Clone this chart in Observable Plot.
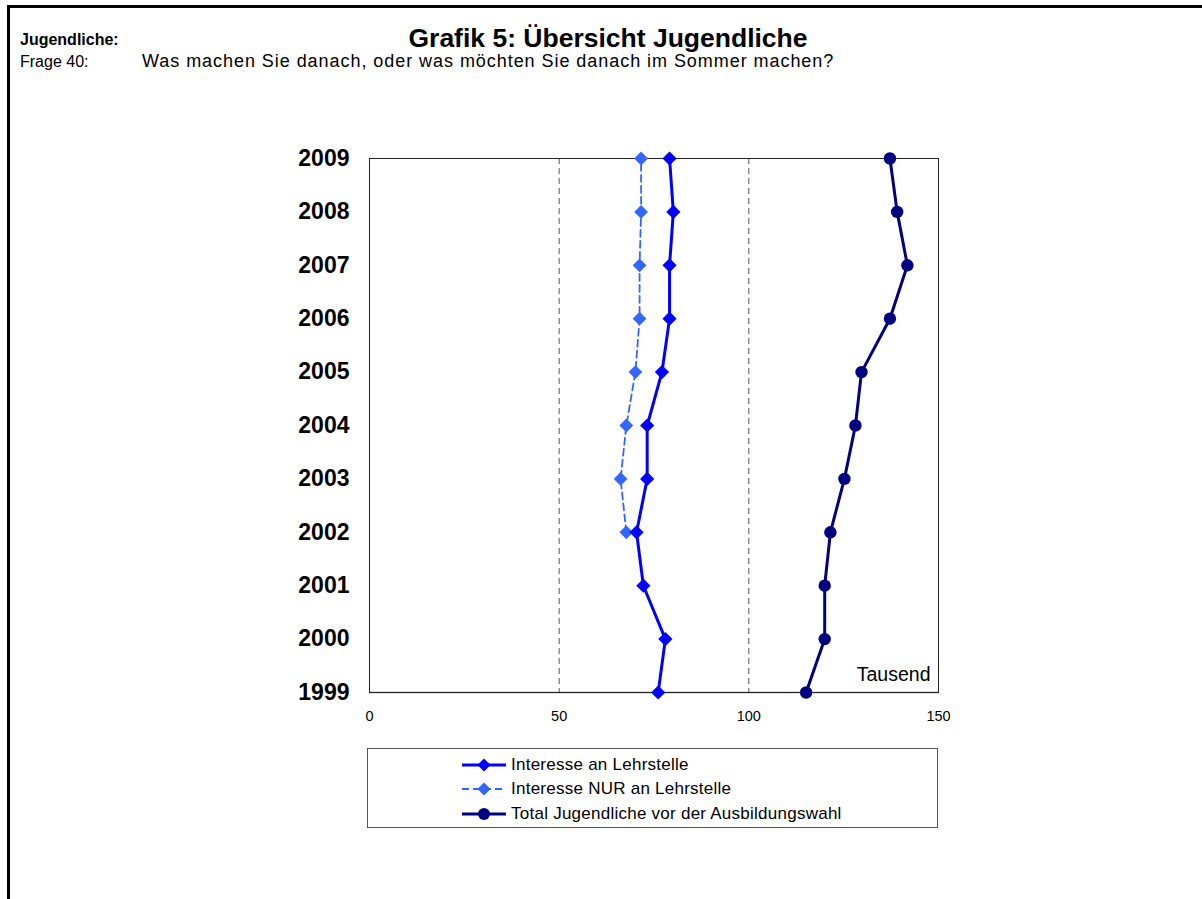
<!DOCTYPE html>
<html>
<head>
<meta charset="utf-8">
<script src="https://cdn.jsdelivr.net/npm/d3@7"></script>
<script src="https://cdn.jsdelivr.net/npm/@observablehq/plot@0.6"></script>
<style>
  html, body { margin: 0; padding: 0; background: #fff; }
  #page { position: relative; width: 1202px; height: 899px; overflow: hidden; font-family: "Liberation Sans", Arial, sans-serif; color: #000; }
  #border { position: absolute; left: 7px; top: 5px; width: 1200px; height: 900px; border-top: 3px solid #000; border-left: 3px solid #000; }
  #title { position: absolute; left: 0; width: 1216px; top: 24.5px; line-height: 1; text-align: center; font-weight: bold; font-size: 26.5px; }
  #group { position: absolute; left: 20px; top: 32px; line-height: 1; font-weight: bold; font-size: 16px; }
  #qline { position: absolute; left: 20px; top: 51.5px; line-height: 1; white-space: nowrap; }
  #frage { display: inline-block; width: 122px; font-size: 16px; }
  #question { font-size: 18px; letter-spacing: 0.95px; }
  #chart { position: absolute; left: 269px; top: 140px; }
  #legend { position: absolute; left: 367px; top: 748px; width: 571px; height: 80px; border: 1px solid #555; box-sizing: border-box; font-size: 17px; letter-spacing: 0.25px; }
  .row { position: absolute; left: 93px; height: 20px; display: flex; align-items: center; }
  .row svg { margin-right: 4px; }
</style>
</head>
<body>
<div id="page">
  <div id="border"></div>
  <div id="title">Grafik 5: Übersicht Jugendliche</div>
  <div id="group">Jugendliche:</div>
  <div id="qline"><span id="frage">Frage 40:</span><span id="question">Was machen Sie danach, oder was möchten Sie danach im Sommer machen?</span></div>
  <div id="chart"></div>
  <div id="legend"></div>
</div>
<script>
const years = [1999, 2000, 2001, 2002, 2003, 2004, 2005, 2006, 2007, 2008, 2009];
const interesse = [76.1, 78.0, 72.2, 70.4, 73.2, 73.2, 77.1, 79.1, 79.1, 80.1, 79.1];
const interesseNur = [null, null, null, 67.7, 66.2, 67.7, 70.1, 71.2, 71.2, 71.6, 71.6];
const total = [115.1, 120.0, 120.0, 121.5, 125.2, 128.1, 129.7, 137.2, 141.8, 139.1, 137.2];
const xTicks = [0, 50, 100, 150];
const seriesNames = ["Interesse an Lehrstelle", "Interesse NUR an Lehrstelle", "Total Jugendliche vor der Ausbildungswahl"];
const colors = ["#0000FF", "#3366FF", "#000080"];

const rowsA = years.map((y, i) => ({year: y, value: interesse[i]}));
const rowsB = years.map((y, i) => ({year: y, value: interesseNur[i]})).filter(d => d.value != null);
const rowsC = years.map((y, i) => ({year: y, value: total[i]}));

const chart = Plot.plot({
  width: 689,
  height: 592,
  marginLeft: 100,
  marginRight: 20,
  marginTop: 18,
  marginBottom: 40,
  style: {fontFamily: "'Liberation Sans', Arial, sans-serif", background: "transparent", color: "#000"},
  x: {domain: [0, 150]},
  y: {domain: [1999, 2009]},
  marks: [
    Plot.ruleX([50, 100], {stroke: "#555", strokeDasharray: "6,4", strokeWidth: 1}),
    Plot.ruleY([1999], {stroke: "#777", strokeWidth: 1.5}),
    Plot.frame({stroke: "#222", strokeWidth: 1}),
    Plot.axisX({ticks: xTicks, tickSize: 0, tickPadding: 18, fontSize: 14.5, label: null, fill: "#000"}),
    Plot.axisY({ticks: years, tickFormat: "d", tickSize: 0, tickPadding: 20, fontSize: 23, fontWeight: "bold", label: null, fill: "#000"}),
    Plot.line(rowsB, {x: "value", y: "year", stroke: colors[1], strokeWidth: 1.8, strokeDasharray: "7,4"}),
    Plot.dot(rowsB, {x: "value", y: "year", symbol: "diamond2", r: 6.2, fill: colors[1], stroke: null}),
    Plot.line(rowsA, {x: "value", y: "year", stroke: colors[0], strokeWidth: 3}),
    Plot.dot(rowsA, {x: "value", y: "year", symbol: "diamond2", r: 6.4, fill: colors[0], stroke: null}),
    Plot.line(rowsC, {x: "value", y: "year", stroke: colors[2], strokeWidth: 3}),
    Plot.dot(rowsC, {x: "value", y: "year", r: 6.2, fill: colors[2], stroke: null}),
    Plot.text(["Tausend"], {frameAnchor: "bottom-right", dx: -8, dy: -12, fontSize: 19.5, textAnchor: "end", fill: "#000"})
  ]
});
document.getElementById("chart").appendChild(chart);

// legend
const legend = document.getElementById("legend");
const legendTops = [6, 30, 55];
const styles = [
  {dash: null, width: 3, symbol: "diamond"},
  {dash: "7,4", width: 1.8, symbol: "diamond"},
  {dash: null, width: 3, symbol: "circle"}
];
seriesNames.forEach((name, i) => {
  const row = document.createElement("div");
  row.className = "row";
  row.style.top = legendTops[i] + "px";
  const s = styles[i];
  const marker = s.symbol === "circle"
    ? `<circle cx="23" cy="10" r="6" fill="${colors[i]}"/>`
    : `<path d="M23,3.5L29.5,10L23,16.5L16.5,10Z" fill="${colors[i]}"/>`;
  row.innerHTML = `<svg width="46" height="20"><line x1="1" y1="10" x2="45" y2="10" stroke="${colors[i]}" stroke-width="${s.width}" ${s.dash ? `stroke-dasharray="${s.dash}"` : ""}/>${marker}</svg><span>${name}</span>`;
  legend.appendChild(row);
});
</script>
</body>
</html>
